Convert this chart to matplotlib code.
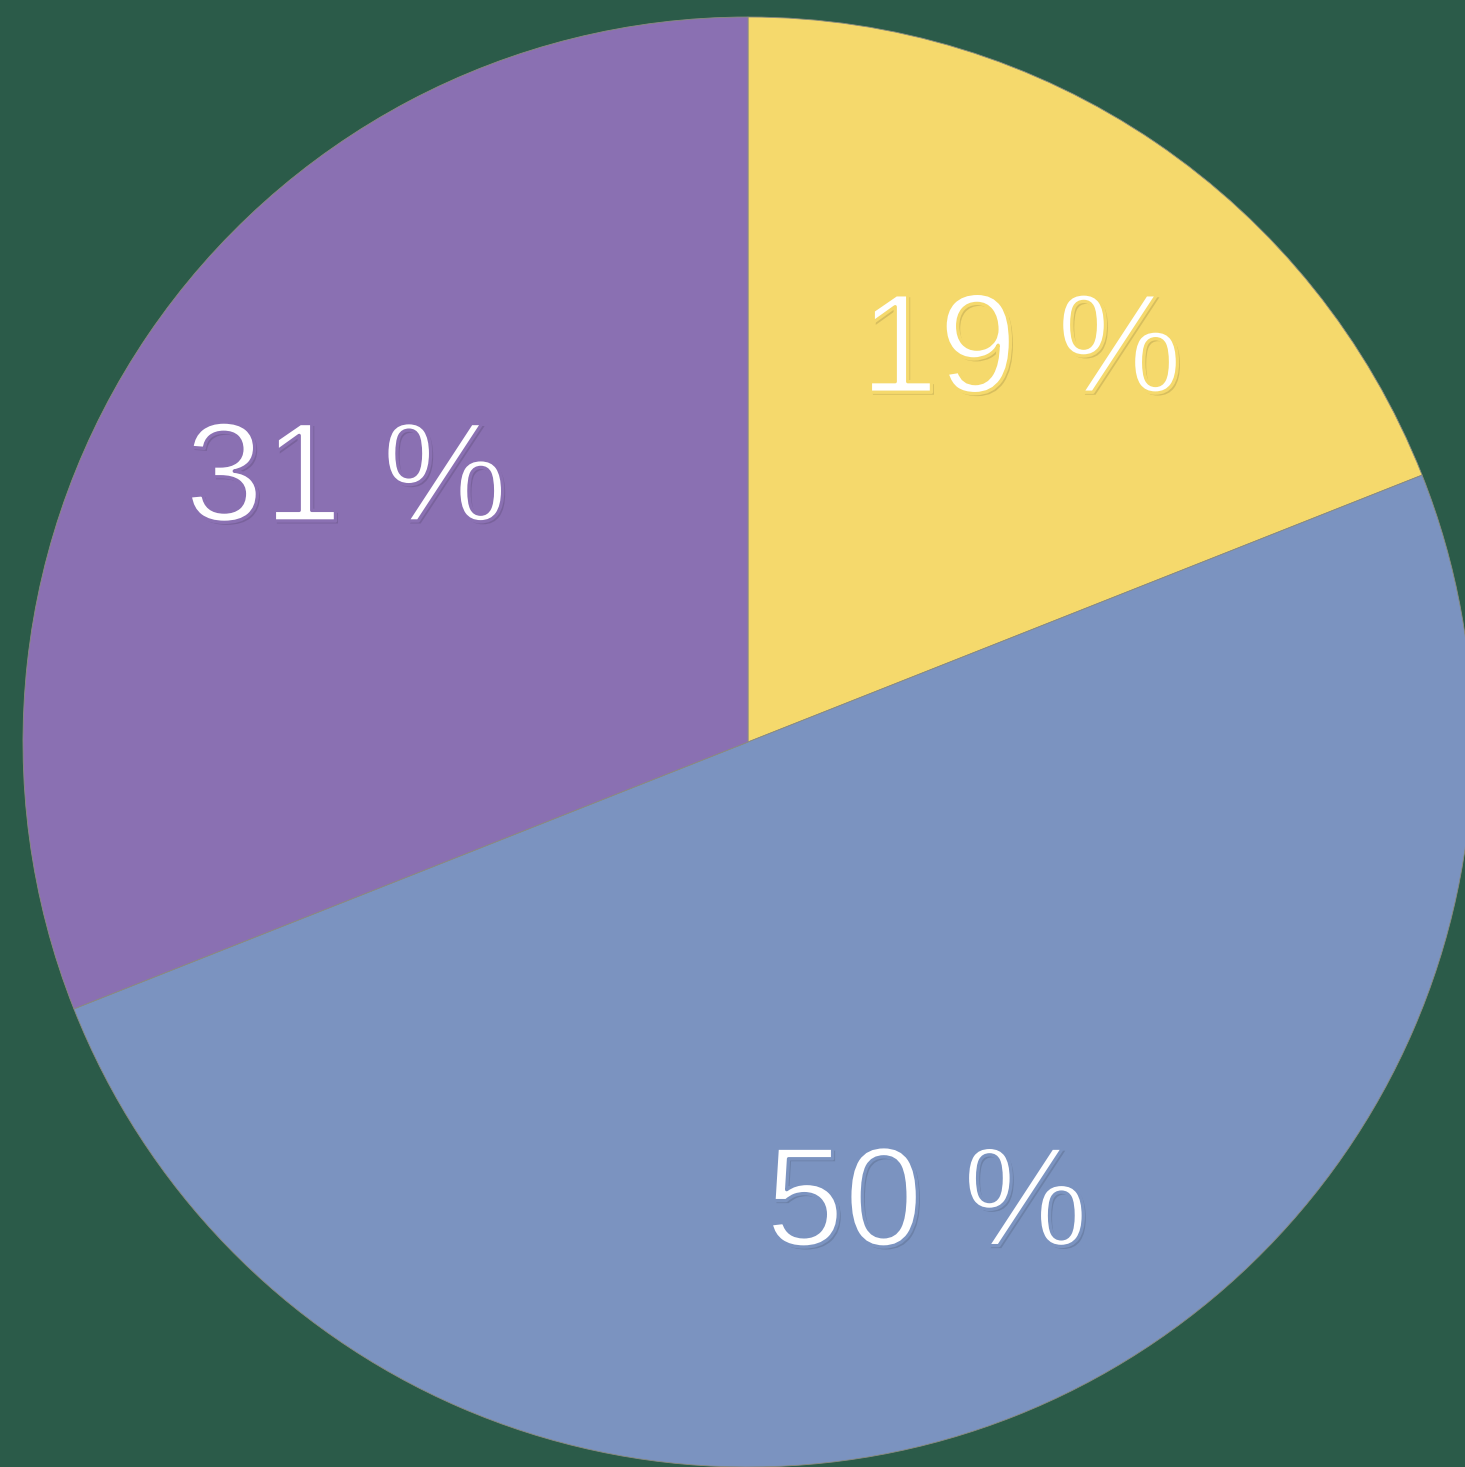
import matplotlib
matplotlib.use('Agg')
import matplotlib.pyplot as plt
import matplotlib.patheffects as pe

# slice data (clockwise from top)
labels = ['19 %', '50 %', '31 %']
values = [19, 50, 31]
colors = ['#f5d96c', '#7b93c0', '#8a70b2']
bg = '#2b5b49'

W, H = 1465, 1467
fig = plt.figure(figsize=(W / 100, H / 100), dpi=100)
fig.patch.set_facecolor(bg)
ax = fig.add_axes([0, 0, 1, 1])
ax.set_facecolor(bg)

# pie centre / radius in pixels
cx, cy, r = 748, 742, 725

wedges, texts = ax.pie(values, colors=colors, startangle=90, counterclock=False,
                       radius=1.0, labels=labels, labeldistance=0.67,
                       wedgeprops=dict(edgecolor='#8c8c80', linewidth=0.6),
                       textprops=dict(color='white', fontsize=102,
                                      family=['Liberation Sans', 'DejaVu Sans'],
                                      ha='center', va='center'))
# light look: trim the glyph outline with the slice colour, faint shadow underneath
for t, c in zip(texts, colors):
    t.set_ha('center')
    t.set_va('center_baseline')
    t.set_path_effects([pe.withSimplePatchShadow(offset=(1.8, -1.8), shadow_rgbFace='black', alpha=0.12),
                        pe.Stroke(linewidth=2.4, foreground=c)])

ax.set_aspect('auto')
ax.set_xlim(-cx / r, (W - cx) / r)
ax.set_ylim(-(H - cy) / r, cy / r)
ax.axis('off')

fig.savefig('out.png', dpi=100, facecolor=bg)
